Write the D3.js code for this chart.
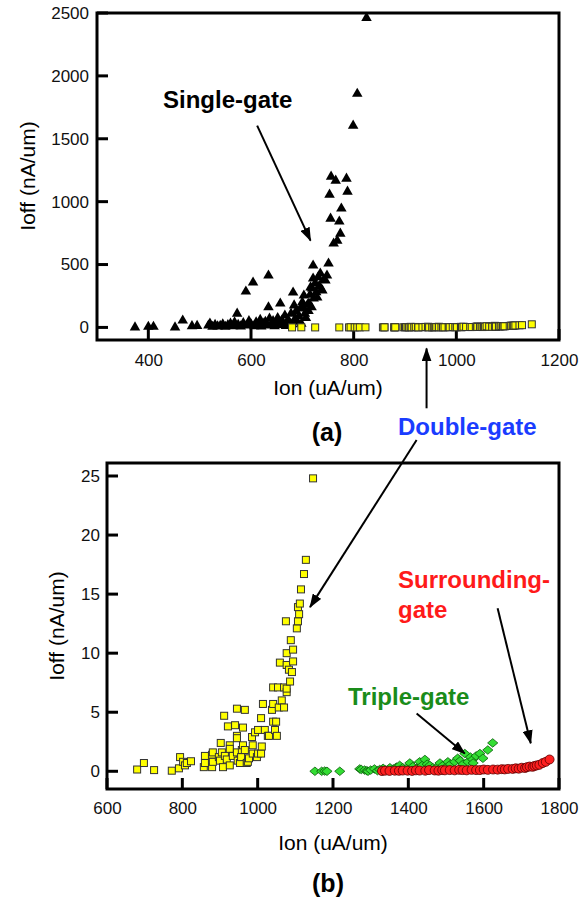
<!DOCTYPE html>
<html>
<head>
<meta charset="utf-8">
<title>Ion vs Ioff</title>
<script src="https://d3js.org/d3.v7.min.js"></script>
<style>
  body { margin: 0; background: #fff; }
  text { font-family: "Liberation Sans", Arial, sans-serif; }
</style>
</head>
<body>
<div id="chart"></div>
<script>
// Single-gate (panel a, triangles)
var sgIon = [374, 400, 410, 452, 467, 485, 495, 517, 520, 525, 530, 535, 540, 545, 550, 555, 560, 565, 568, 573,
             575, 580, 585, 590, 592, 596, 600, 604, 606, 610, 615, 618, 620, 625, 628, 632, 634, 634, 636, 640,
             643, 646, 650, 652, 655, 657, 660, 663, 666, 668, 672, 675, 678, 680, 682, 684, 686, 688, 690, 693,
             696, 698, 700, 702, 703, 705, 707, 710, 712, 713, 715, 716, 718, 719, 721, 721, 722, 725, 727, 729,
             731, 733, 735, 737, 739, 742, 745, 748, 751, 753, 755, 756, 761, 765, 768, 772, 774, 776, 786, 788,
             799, 807, 825];
var sgIoff = [0, 5, 5, 0, 55, 10, 12, 15, 30, 5, 20, 8, 12, 25, 5, 18, 30, 10, 40, 110,
              20, 8, 35, 285, 15, 50, 25, 357, 10, 40, 20, 60, 8, 30, 45, 15, 160, 413, 70, 25,
              50, 10, 35, 75, 20, 190, 55, 30, 95, 12, 60, 40, 110, 25, 278, 175, 70, 130, 45, 90,
              150, 30, 200, 159, 254, 110, 75, 180, 130, 190, 260, 318, 160, 310, 389, 492, 230, 350, 280, 238,
              400, 330, 429, 300, 294, 380, 373, 413, 508, 1056, 865, 1199, 667, 1167, 690, 842, 746, 945, 1183, 1080,
              1604, 1858, 2461];

// Double-gate (both panels, yellow squares)
var dgIon = [680, 698, 725, 772, 791, 794, 802, 807, 812, 823, 857, 860, 860, 879, 879, 881, 881, 897, 900, 902,
             905, 908, 911, 913, 918, 921, 926, 926, 926, 934, 940, 945, 945, 945, 945, 947, 953, 956, 958, 961,
             961, 966, 966, 971, 974, 977, 985, 987, 987, 993, 998, 1001, 1001, 1009, 1009, 1011, 1014, 1019, 1027, 1030,
             1038, 1041, 1041, 1041, 1046, 1049, 1051, 1054, 1056, 1059, 1064, 1070, 1070, 1075, 1077, 1077, 1077, 1077, 1083, 1086,
             1088, 1091, 1094, 1094, 1104, 1107, 1107, 1110, 1112, 1115, 1123, 1128, 1147];
var dgIoff = [0.15, 0.7, 0.1, 0.05, 0.25, 1.2, 0.8, 0.5, 0.7, 0.85, 0.35, 1.3, 0.7, 1.4, 0.35, 1.6, 0.8, 1.2, 0.9, 2.4,
              1.6, 0.35, 4.7, 1.3, 1.0, 3.8, 2.2, 1.9, 0.5, 1.3, 3.9, 3.0, 2.8, 1.6, 5.3, 0.9, 0.7, 1.2, 1.8, 3.7,
              2.2, 5.2, 1.8, 0.7, 0.8, 1.1, 2.9, 2.2, 1.5, 3.3, 1.2, 3.5, 1.5, 4.5, 1.5, 2.1, 5.7, 3.5, 3.0, 3.0,
              5.2, 5.7, 7.1, 4.2, 3.5, 4.2, 3.0, 7.1, 5.4, 9.2, 6.0, 7.1, 5.4, 12.7, 10.0, 9.0, 6.7, 7.0, 8.6, 7.6,
              11.1, 8.4, 10.3, 9.3, 12.1, 13.9, 12.7, 13.3, 14.2, 15.4, 16.7, 17.9, 24.8];

// Triple-gate (panel b, green diamonds)
var tgIon = [1152, 1170, 1178, 1184, 1218, 1271, 1275, 1284, 1290, 1293, 1300, 1310, 1318, 1324, 1333, 1340, 1351, 1360, 1368, 1377,
             1385, 1392, 1399, 1404, 1412, 1423, 1430, 1437, 1444, 1450, 1457, 1465, 1476, 1484, 1492, 1500, 1505, 1512, 1523, 1531,
             1538, 1545, 1550, 1558, 1565, 1571, 1572, 1580, 1590, 1598, 1611, 1624];
var tgIoff = [0, 0, 0.02, 0, 0, 0.2, 0.15, 0.1, 0.05, 0, 0.1, 0.2, 0.05, 0.15, 0.25, 0.1, 0.3, 0.2, 0.35, 0.5,
              0.3, 0.15, 0.35, 0.7, 0.4, 0.25, 0.8, 0.5, 1.0, 0.6, 0.5, 0.3, 0.35, 0.7, 0.5, 0.35, 0.8, 0.6, 0.8, 1.1,
              0.9, 0.6, 1.5, 0.8, 1.2, 1.0, 0.7, 1.3, 1.5, 1.1, 1.8, 2.4];

// Surrounding-gate (panel b, red circles)
var srIon = [1330, 1338, 1350, 1364, 1375, 1385, 1398, 1410, 1420, 1430, 1445, 1455, 1470, 1480, 1490, 1497, 1510, 1523, 1535, 1544,
             1555, 1568, 1580, 1590, 1600, 1611, 1625, 1637, 1648, 1656, 1665, 1677, 1685, 1693, 1701, 1710, 1715, 1722, 1730, 1735,
             1741, 1748, 1757, 1765, 1775];
var srIoff = [0.02, 0.05, 0.03, 0.05, 0.04, 0.06, 0.05, 0.03, 0.08, 0.06, 0.05, 0.1, 0.07, 0.05, 0.1, 0.08, 0.1, 0.08, 0.12, 0.1,
              0.08, 0.12, 0.1, 0.1, 0.15, 0.12, 0.15, 0.14, 0.18, 0.16, 0.2, 0.2, 0.25, 0.22, 0.3, 0.28, 0.35, 0.4, 0.38, 0.45,
              0.5, 0.55, 0.7, 0.8, 1.0];

// axis ticks
var xTicksA = [400, 600, 800, 1000, 1200];
var yTicksA = [0, 500, 1000, 1500, 2000, 2500];
var xTicksB = [600, 800, 1000, 1200, 1400, 1600, 1800];
var yTicksB = [0, 5, 10, 15, 20, 25];

function zip(xs, ys) { return xs.map(function(x, i) { return [x, ys[i]]; }); }

var svg = d3.select("#chart").append("svg")
    .attr("width", 585)
    .attr("height", 900);

svg.append("defs").append("marker")
    .attr("id", "head")
    .attr("markerUnits", "userSpaceOnUse")
    .attr("viewBox", "0 0 14 10")
    .attr("markerWidth", 14)
    .attr("markerHeight", 10)
    .attr("refX", 13)
    .attr("refY", 5)
    .attr("orient", "auto")
    .append("path")
    .attr("d", "M0,0 L14,5 L0,10 Z")
    .attr("fill", "#000");

// panel scales
var xa = d3.scaleLinear().domain([300, 1200]).range([97, 559]);
var ya = d3.scaleLinear().domain([-100, 2500]).range([340, 13]);
var xb = d3.scaleLinear().domain([600, 1800]).range([107, 559]);
var yb = d3.scaleLinear().domain([-1.5, 26.1]).range([789, 463]);

function frame(sx, sy, xt, yt, xpad, ypad) {
    var g = svg.append("g");
    var bottom = sy.range()[0], left = sx.range()[0];
    var ax = g.append("g").attr("transform", "translate(0," + bottom + ")")
        .call(d3.axisBottom(sx).tickValues(xt).tickFormat(d3.format("d")).tickSize(0).tickPadding(xpad));
    var ay = g.append("g").attr("transform", "translate(" + left + ",0)")
        .call(d3.axisLeft(sy).tickValues(yt).tickFormat(d3.format("d")).tickSize(0).tickPadding(ypad));
    [ax, ay].forEach(function(a) {
        a.select(".domain").remove();
        a.selectAll("text").attr("font-size", 17).attr("fill", "#111")
            .attr("font-family", "Liberation Sans, Arial, sans-serif");
    });
    g.append("rect")
        .attr("x", sx.range()[0]).attr("y", sy.range()[1])
        .attr("width", sx.range()[1] - sx.range()[0])
        .attr("height", sy.range()[0] - sy.range()[1])
        .attr("fill", "none").attr("stroke", "#000").attr("stroke-width", 3);
    // inward tick marks
    var tg = svg.append("g").attr("stroke", "#000").attr("stroke-width", 3);
    tg.selectAll(null).data(xt).enter().append("line")
        .attr("x1", function(d) { return sx(d); }).attr("x2", function(d) { return sx(d); })
        .attr("y1", bottom).attr("y2", bottom - 11);
    tg.selectAll(null).data(yt).enter().append("line")
        .attr("y1", function(d) { return sy(d); }).attr("y2", function(d) { return sy(d); })
        .attr("x1", left).attr("x2", left + 11);
}

function squares(g, data, sx, sy) {
    g.selectAll(null).data(data).enter().append("rect")
        .attr("x", function(d) { return sx(d[0]) - 3.5; })
        .attr("y", function(d) { return sy(d[1]) - 3.5; })
        .attr("width", 7).attr("height", 7)
        .attr("fill", "#ffff00").attr("stroke", "#333").attr("stroke-width", 1);
}

var wideDiamond = {
    draw: function(ctx, size) {
        var s = Math.sqrt(size), w = s * 0.6, h = s * 0.5;
        ctx.moveTo(0, -h); ctx.lineTo(w, 0); ctx.lineTo(0, h); ctx.lineTo(-w, 0); ctx.closePath();
    }
};

// ---- panel (a)
frame(xa, ya, xTicksA, yTicksA, 14, 8);
var ga = svg.append("g");
ga.selectAll(null).data(zip(sgIon, sgIoff)).enter().append("path")
    .attr("d", d3.symbol().type(d3.symbolTriangle).size(48))
    .attr("transform", function(d) { return "translate(" + xa(d[0]) + "," + ya(d[1]) + ")"; })
    .attr("fill", "#000");
squares(ga, zip(dgIon, dgIoff), xa, ya);

// ---- panel (b)
frame(xb, yb, xTicksB, yTicksB, 13, 7);
var gb = svg.append("g");
squares(gb, zip(dgIon, dgIoff), xb, yb);
gb.selectAll(null).data(zip(tgIon, tgIoff)).enter().append("path")
    .attr("d", d3.symbol().type(wideDiamond).size(72))
    .attr("transform", function(d) { return "translate(" + xb(d[0]) + "," + yb(d[1]) + ")"; })
    .attr("fill", "#33dd33").attr("stroke", "#0a5a0a").attr("stroke-width", 0.8);
gb.selectAll(null).data(zip(srIon, srIoff)).enter().append("circle")
    .attr("cx", function(d) { return xb(d[0]); })
    .attr("cy", function(d) { return yb(d[1]); })
    .attr("r", 4.5)
    .attr("fill", "#ff2020").attr("stroke", "#5a0000").attr("stroke-width", 0.8);

// axis titles
function ylabel(x, y) {
    svg.append("text").attr("transform", "translate(" + x + "," + y + ") rotate(-90)")
        .attr("text-anchor", "middle").attr("font-size", 21).text("Ioff (nA/um)");
}
function xlabel(x, y) {
    svg.append("text").attr("x", x).attr("y", y)
        .attr("text-anchor", "middle").attr("font-size", 21).text("Ion (uA/um)");
}
ylabel(35, 176);
ylabel(64, 626);
xlabel(328, 395);
xlabel(333, 850);

svg.append("text").attr("x", 327).attr("y", 441).attr("text-anchor", "middle")
    .attr("font-family", "Liberation Serif, Times New Roman, serif").attr("font-weight", "bold")
    .attr("font-size", 25).text("(a)");
svg.append("text").attr("x", 328).attr("y", 892).attr("text-anchor", "middle")
    .attr("font-family", "Liberation Serif, Times New Roman, serif").attr("font-weight", "bold")
    .attr("font-size", 25).text("(b)");

// annotations
var notes = [
    { text: "Single-gate", x: 163, y: 108, color: "#000" },
    { text: "Double-gate", x: 398, y: 435, color: "#1a3cff" },
    { text: "Surrounding-", x: 398, y: 588, color: "#ff1a1a" },
    { text: "gate", x: 398, y: 618, color: "#ff1a1a" },
    { text: "Triple-gate", x: 348, y: 705, color: "#1a8c1a" }
];
svg.selectAll(null).data(notes).enter().append("text")
    .attr("x", function(d) { return d.x; })
    .attr("y", function(d) { return d.y; })
    .attr("fill", function(d) { return d.color; })
    .attr("font-weight", "bold").attr("font-size", 24)
    .text(function(d) { return d.text; });

// arrows, tail and tip in data units of their panel
var arrows = [
    { x: xa, y: ya, from: [612, 1604], to: [716, 690] },
    { x: xa, y: ya, from: [942, -643], to: [942, -167] },
    { x: xb, y: yb, from: [1422, 28.05], to: [1139, 13.9] },
    { x: xb, y: yb, from: [1637, 13.8], to: [1725, 2.37] },
    { x: xb, y: yb, from: [1422, 4.9], to: [1550, 1.5] }
];
svg.selectAll(null).data(arrows).enter().append("line")
    .attr("x1", function(d) { return d.x(d.from[0]); })
    .attr("y1", function(d) { return d.y(d.from[1]); })
    .attr("x2", function(d) { return d.x(d.to[0]); })
    .attr("y2", function(d) { return d.y(d.to[1]); })
    .attr("stroke", "#000").attr("stroke-width", 2)
    .attr("marker-end", "url(#head)");
</script>
</body>
</html>
